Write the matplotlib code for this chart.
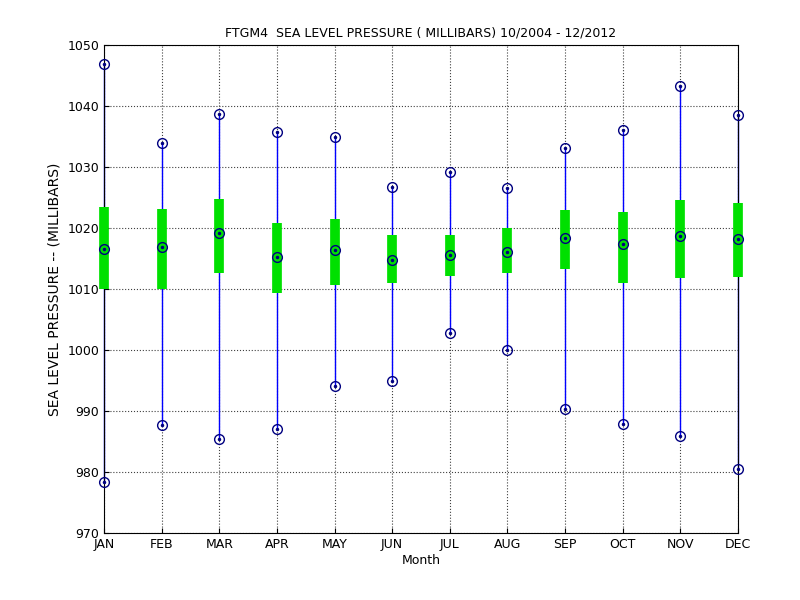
import matplotlib
matplotlib.use("Agg")
import matplotlib.pyplot as plt

months = ["JAN","FEB","MAR","APR","MAY","JUN","JUL","AUG","SEP","OCT","NOV","DEC"]
vmax = [1046.9,1033.9,1038.7,1035.7,1034.9,1026.7,1029.2,1026.6,1033.1,1036.1,1043.3,1038.5]
vmean = [1016.6,1016.9,1019.2,1015.2,1016.4,1014.8,1015.6,1016.1,1018.4,1017.4,1018.7,1018.2]
box_hi = [1023.4,1023.1,1024.8,1020.8,1021.5,1018.9,1018.9,1020.0,1022.9,1022.6,1024.6,1024.1]
box_lo = [1010.0,1010.0,1012.6,1009.3,1010.7,1011.0,1012.1,1012.6,1013.3,1011.0,1011.8,1012.0]
vmin = [978.4,987.7,985.4,987.0,994.1,994.9,1002.8,1000.0,990.3,987.9,985.9,980.5]

fig = plt.figure(figsize=(8,6), dpi=100)
ax = fig.add_axes([0.13, 0.1117, 0.7925, 0.8133])
x = list(range(1,13))
for i in range(12):
    ax.plot([x[i],x[i]],[vmin[i],vmax[i]],color='#0000ff',lw=1,zorder=2,clip_on=False)
    ax.plot([x[i],x[i]],[box_lo[i],box_hi[i]],color='#00e000',lw=7,solid_capstyle='butt',zorder=3,clip_on=False)
for series in (vmax, vmean, vmin):
    ax.plot(x, series, 'o', mfc='none', mec='#000080', ms=7, mew=1, zorder=4, clip_on=False)
    ax.plot(x, series, '.', color='#000080', ms=3, zorder=5, clip_on=False)
ax.set_xlim(1,12)
ax.set_ylim(970,1050)
ax.set_xticks(x)
ax.set_xticklabels(months)
ax.set_yticks(range(970,1051,10))
ax.grid(True, linestyle=':', color='#404040', lw=0.8)
ax.tick_params(direction='in', labelsize=9)
ax.set_xlabel("Month", fontsize=9, labelpad=2)
ax.set_ylabel("SEA LEVEL PRESSURE -- (MILLIBARS)", fontsize=10)
ax.set_title("FTGM4  SEA LEVEL PRESSURE ( MILLIBARS) 10/2004 - 12/2012", fontsize=9)
fig.savefig("out.png")
